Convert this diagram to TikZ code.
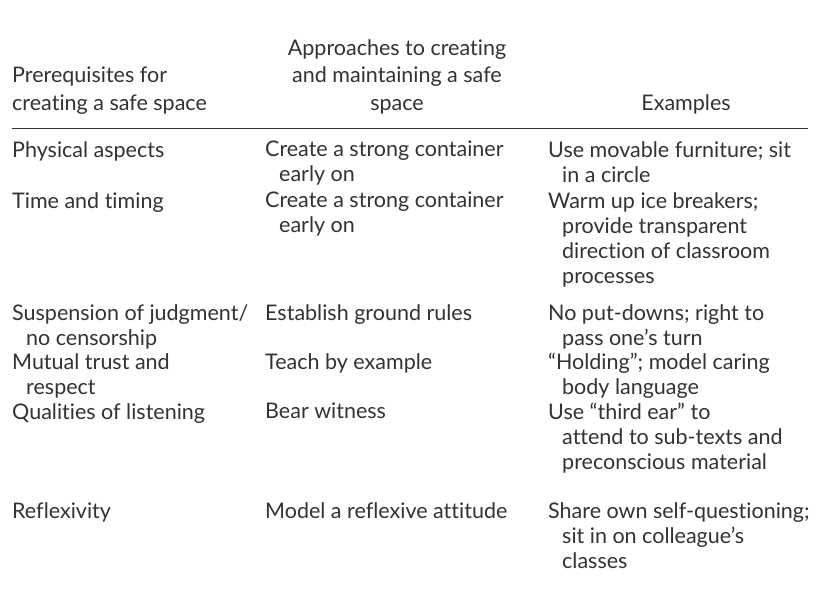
\documentclass[tikz,border=0pt]{standalone}
\usepackage{fontspec}
\setmainfont{Lato}[Ligatures=NoCommon]
\definecolor{ink}{HTML}{333333}
\tikzset{
  cell/.style={anchor=north west, inner sep=0pt, align=left, text=ink, font=\fontsize{21.5}{25}\selectfont},
  head/.style={anchor=north, inner sep=0pt, align=center, text=ink, font=\fontsize{21.5}{27.5}\selectfont}
}
\newcommand{\ind}{\hspace*{14pt}}
\begin{document}
\begin{tikzpicture}[x=1pt,y=-1pt]
\useasboundingbox[fill=white] (0,0) rectangle (820,602);

% header
\node[head] (h b) at (397,39) {Approaches to creating\\and maintaining a safe\\space};
\node[head, anchor=north west, align=left] (h a) at (12,67) {Prerequisites for\\creating a safe space};
\node[head] (h c) at (686,94) {Examples};
\draw[ink, line width=0.8] (12,128) -- (808,128);

% rows
\node[cell] (a1) at (12,141) {Physical aspects};
\node[cell] (b1) at (265,141) {Create a strong container\\\ind early on};
\node[cell] (c1) at (548,141) {Use movable furniture; sit\\\ind in a circle};

\node[cell] (a2) at (12,192) {Time and timing};
\node[cell] (b2) at (265,192) {Create a strong container\\\ind early on};
\node[cell] (c2) at (548,192) {Warm up ice breakers;\\\ind provide transparent\\\ind direction of classroom\\\ind processes};

\node[cell] (a3) at (12,304) {Suspension of judgment/\\\ind no censorship};
\node[cell] (b3) at (265,304) {Establish ground rules};
\node[cell] (c3) at (548,304) {No put-downs; right to\\\ind pass one’s turn};

\node[cell] (a4) at (12,353) {Mutual trust and\\\ind respect};
\node[cell] (b4) at (265,353) {Teach by example};
\node[cell] (c4) at (548,353) {“Holding”; model caring\\\ind body language};

\node[cell] (a5) at (12,403) {Qualities of listening};
\node[cell] (b5) at (265,403) {Bear witness};
\node[cell] (c5) at (548,403) {Use “third ear” to\\\ind attend to sub-texts and\\\ind preconscious material};

\node[cell] (a6) at (12,502) {Reflexivity};
\node[cell] (b6) at (265,502) {Model a reflexive attitude};
\node[cell] (c6) at (548,502) {Share own self-questioning;\\\ind sit in on colleague’s\\\ind classes};
\end{tikzpicture}
\end{document}
